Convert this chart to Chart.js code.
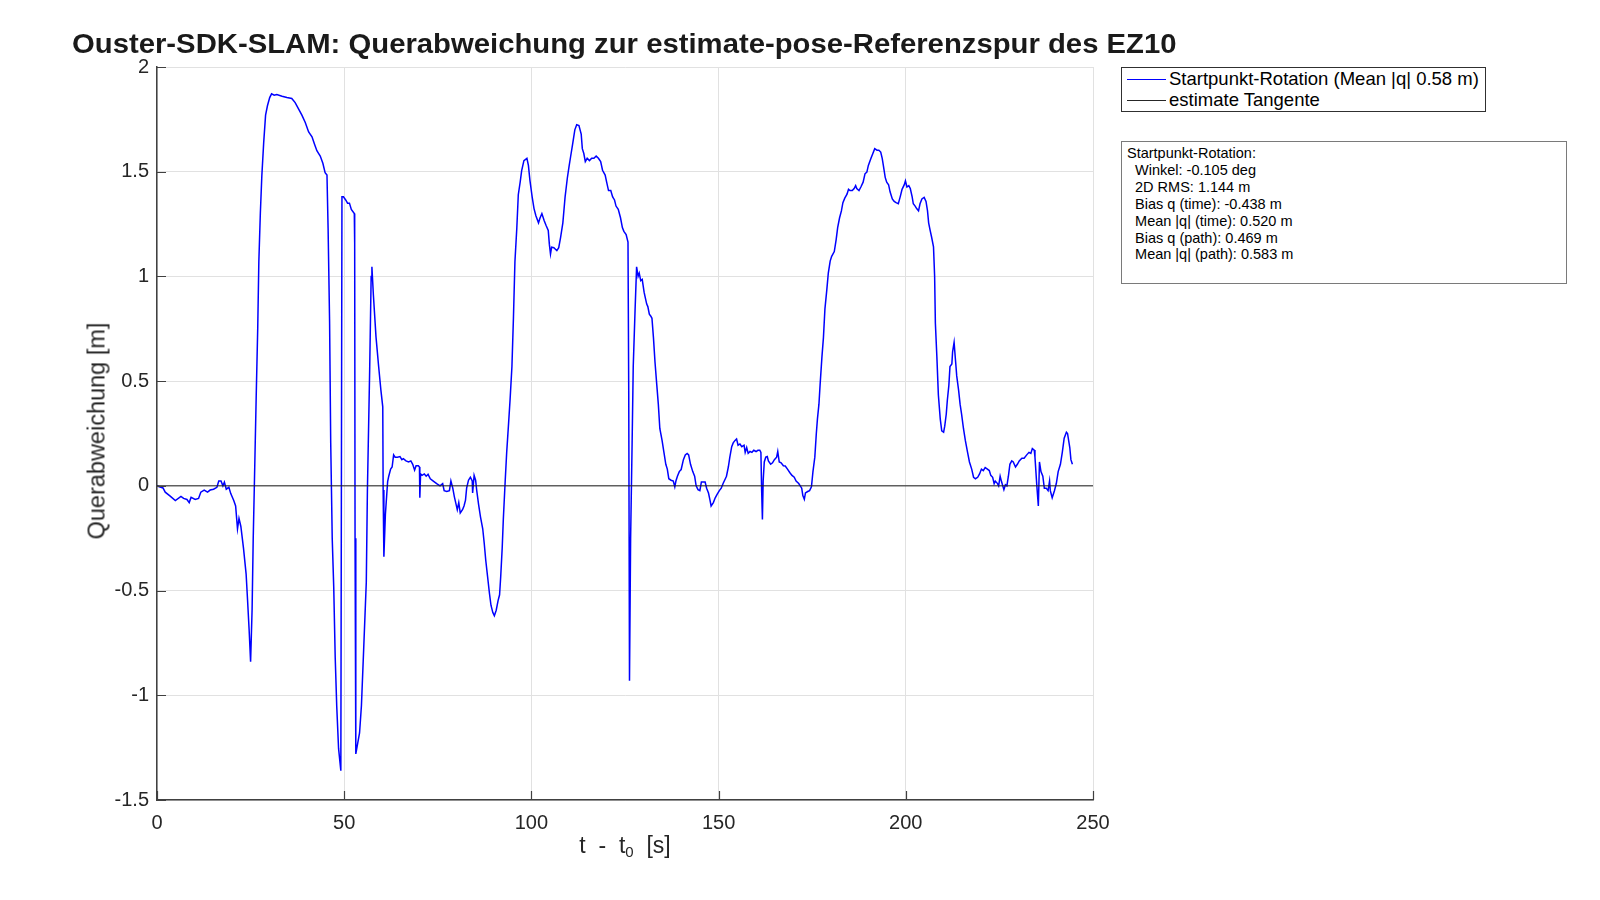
<!DOCTYPE html>
<html>
<head>
<meta charset="utf-8">
<script src="https://cdn.jsdelivr.net/npm/chart.js@4/dist/chart.umd.min.js"></script>
<style>
  html, body { margin: 0; padding: 0; background: #fff; }
  body { width: 1600px; height: 900px; position: relative; overflow: hidden;
         font-family: "Liberation Sans", Arial, Helvetica, sans-serif; color: #262626; }
  #chart { position: absolute; left: 0; top: 0; }
  #title { position: absolute; left: 72px; top: 28px; font-size: 27.5px; font-weight: bold;
           color: #1a1a1a; white-space: nowrap; transform-origin: left top; }
  #ylabel { position: absolute; left: 97px; top: 431px; font-size: 23.5px; white-space: nowrap;
            transform: translate(-50%, -50%) rotate(-90deg); }
  #xlabel { position: absolute; left: 625px; top: 846px; font-size: 23px; white-space: pre;
            transform: translate(-50%, -50%); }
  #xlabel sub { font-size: 15px; vertical-align: -4px; }
  .legend { position: absolute; left: 1121px; top: 67px; width: 363px; height: 43px;
            border: 1.5px solid #303030; background: #fff; }
  .legend .row { position: absolute; left: 0; height: 22px; font-size: 18.5px; line-height: 22px;
                 white-space: nowrap; color: #000; }
  .legend .swatch { position: absolute; left: 5px; top: 11px; width: 39px; height: 0; }
  .legend .txt { position: absolute; left: 47px; top: 0; }
  #stats { position: absolute; left: 1121px; top: 141px; width: 446px; height: 143px;
           border: 1px solid #7a7a7a; background: #fff; font-size: 14.5px; line-height: 16.9px;
           white-space: pre; padding: 3px 0 0 5px; box-sizing: border-box; color: #000; }
</style>
</head>
<body>
<canvas id="chart" width="1600" height="900"></canvas>
<div id="title">Ouster-SDK-SLAM: Querabweichung zur estimate-pose-Referenzspur des EZ10</div>
<div id="ylabel">Querabweichung [m]</div>
<div id="xlabel">t  -  t<sub>0</sub>  [s]</div>
<div class="legend">
  <div class="row" style="top: 0px;"><div class="swatch" style="border-top: 1.5px solid #0000ff;"></div><span class="txt">Startpunkt-Rotation (Mean |q| 0.58 m)</span></div>
  <div class="row" style="top: 21px;"><div class="swatch" style="border-top: 1px solid #262626;"></div><span class="txt">estimate Tangente</span></div>
</div>
<div id="stats">Startpunkt-Rotation:
  Winkel: -0.105 deg
  2D RMS: 1.144 m
  Bias q (time): -0.438 m
  Mean |q| (time): 0.520 m
  Bias q (path): 0.469 m
  Mean |q| (path): 0.583 m</div>
<script>
// time since start [s]
const timeS = [
  0, 1.6, 2.2, 3.6, 4.9, 6.4, 7.1, 8.0, 8.6, 9.1, 10.2, 11.1, 11.7, 12.6, 13.5, 14.2, 15.1, 16.0, 16.5, 17.1,
  17.6, 18.0, 18.5, 19.2, 19.7, 20.5, 21.0, 21.5, 21.9, 22.4, 23.1, 23.8, 24.2, 24.6, 25.0, 25.4, 25.7, 26.0, 26.5, 26.9,
  27.2, 27.6, 28.0, 28.5, 29.0, 29.5, 30.1, 30.6, 31.3, 32.0, 33.4, 34.7, 36.0, 36.9, 37.8, 38.7, 39.6, 40.5, 41.4, 42.1,
  42.7, 43.6, 44.3, 44.9, 45.4, 45.7, 46.1, 46.4, 46.8, 47.2, 47.6, 48.0, 48.5, 49.1, 49.4, 49.8, 50.4, 50.9, 51.4, 51.9,
  52.7, 52.8, 52.9, 53.1, 53.6, 54.1, 54.6, 55.2, 55.9, 56.2, 56.8, 57.2, 57.4, 57.8, 58.5, 59.2, 59.8, 60.3, 60.4, 60.6,
  61.0, 61.6, 61.9, 62.4, 62.8, 63.2, 63.6, 64.2, 64.9, 65.4, 65.8, 66.5, 67.2, 67.8, 68.3, 68.8, 69.2, 69.8, 70.1, 70.2,
  70.4, 70.8, 71.4, 71.9, 72.4, 73.0, 73.8, 74.7, 75.6, 76.3, 76.7, 77.4, 78.1, 78.5, 79.0, 79.4, 79.9, 80.2, 80.6, 81.0,
  81.6, 82.0, 82.4, 82.7, 83.2, 83.7, 84.2, 84.3, 84.7, 85.1, 85.4, 85.9, 86.4, 87.0, 87.4, 87.8, 88.3, 88.8, 89.2, 89.7,
  90.1, 90.6, 91.1, 91.5, 91.8, 92.2, 92.5, 93.0, 93.4, 93.9, 94.3, 94.8, 95.2, 95.6, 96.1, 96.5, 97.0, 97.4, 98.0, 98.8,
  99.2, 99.6, 100.2, 100.7, 101.2, 101.9, 102.3, 102.8, 103.4, 103.9, 104.5, 104.8, 105.1, 105.4, 106.0, 106.8, 107.3, 107.8, 108.4, 109.0,
  109.6, 110.1, 110.5, 111.0, 111.6, 112.1, 112.7, 113.3, 113.6, 114.0, 114.4, 114.9, 115.5, 116.1, 116.7, 117.3, 117.9, 118.5, 119.0, 119.7,
  120.1, 120.6, 121.2, 121.7, 122.2, 122.6, 123.2, 123.8, 124.3, 124.7, 125.3, 125.8, 126.0, 126.1, 126.2, 126.5, 126.9, 127.2, 127.7, 128.1,
  128.5, 128.8, 129.2, 129.6, 130.1, 130.4, 130.8, 131.1, 131.5, 131.9, 132.2, 132.6, 133.0, 133.5, 133.9, 134.3, 134.9, 135.4, 135.9, 136.3,
  136.7, 137.3, 137.9, 138.3, 138.6, 139.0, 139.5, 140.0, 140.6, 141.1, 141.6, 142.0, 142.5, 143.1, 143.6, 144.0, 144.5, 145.0, 145.4, 145.9,
  146.4, 146.8, 147.3, 147.7, 148.0, 148.6, 149.1, 149.6, 150.2, 150.7, 151.2, 151.8, 152.1, 152.6, 153.0, 153.5, 153.9, 154.4, 154.8, 155.2,
  155.7, 156.2, 156.8, 157.1, 157.5, 157.9, 158.4, 158.9, 159.4, 160.0, 160.5, 161.0, 161.3, 161.5, 161.7, 161.9, 162.2, 162.6, 163.0, 163.3,
  163.9, 164.4, 164.9, 165.5, 165.8, 166.2, 166.7, 167.3, 167.8, 168.4, 169.0, 169.6, 170.2, 170.7, 171.4, 171.8, 172.2, 172.5, 172.9, 173.2,
  173.8, 174.3, 174.8, 175.2, 175.7, 176.1, 176.4, 176.8, 177.1, 177.6, 178.0, 178.4, 178.9, 179.3, 179.8, 180.2, 180.9, 181.4, 181.8, 182.3,
  182.8, 183.2, 183.7, 184.3, 184.7, 185.1, 185.7, 186.2, 186.6, 186.9, 187.5, 188.0, 188.6, 189.1, 189.6, 190.0, 190.7, 191.2, 191.7, 192.3,
  192.8, 193.3, 193.7, 194.0, 194.5, 194.9, 195.4, 195.8, 196.4, 196.9, 197.4, 198.0, 198.5, 199.0, 199.6, 199.9, 200.3, 200.8, 201.2, 201.7,
  202.0, 202.5, 202.9, 203.4, 203.8, 204.3, 204.9, 205.4, 205.8, 206.1, 206.5, 206.9, 207.4, 207.7, 207.9, 208.3, 208.7, 209.2, 209.6, 210.1,
  210.4, 210.8, 211.1, 211.5, 211.8, 212.3, 212.5, 212.9, 213.3, 213.6, 214.1, 214.5, 214.9, 215.4, 215.9, 216.5, 217.0, 217.6, 218.1, 218.6,
  219.2, 219.7, 220.2, 220.7, 221.2, 221.8, 222.3, 222.7, 223.2, 223.6, 223.9, 224.5, 224.8, 225.2, 225.6, 225.9, 226.2, 226.6, 227.0, 227.4,
  227.8, 228.3, 228.7, 229.3, 229.8, 230.3, 231.0, 231.6, 232.3, 232.9, 233.4, 233.8, 234.3, 234.5, 235.0, 235.4, 235.7, 236.1, 236.6, 237.0,
  237.5, 238.0, 238.4, 238.6, 239.1, 239.7, 240.2, 240.7, 241.3, 241.8, 242.3, 242.9, 243.2, 243.8, 244.1, 244.5
];

// lateral deviation q [m]
const lateralM = [
  0, -0.01, -0.03, -0.05, -0.07, -0.05, -0.06, -0.065, -0.08, -0.055, -0.065, -0.06, -0.03, -0.02, -0.03, -0.02, -0.016, -0.007, 0.023, 0.023,
  0, 0.018, -0.016, -0.007, -0.037, -0.07, -0.096, -0.205, -0.155, -0.194, -0.297, -0.42, -0.55, -0.685, -0.84, -0.59, -0.25, 0, 0.43, 0.75,
  1.07, 1.30, 1.48, 1.64, 1.77, 1.815, 1.854, 1.872, 1.865, 1.868, 1.86, 1.854, 1.85, 1.83, 1.80, 1.77, 1.735, 1.69, 1.667, 1.63,
  1.60, 1.575, 1.54, 1.495, 1.484, 1.23, 0.78, 0.205, -0.25, -0.48, -0.82, -1.05, -1.255, -1.36, 1.38, 1.38, 1.365, 1.35, 1.35, 1.32,
  1.30, 1.16, -0.25, -1.28, -1.23, -1.18, -1.05, -0.78, -0.46, -0.02, 0.55, 1.0, 1.046, 0.91, 0.71, 0.57, 0.457, 0.377, -0.02, -0.338,
  -0.137, 0.02, 0.046, 0.08, 0.09, 0.148, 0.137, 0.137, 0.14, 0.125, 0.13, 0.119, 0.114, 0.119, 0.103, 0.075, 0.096, 0.096, 0.09, -0.057,
  0.057, 0.05, 0.057, 0.046, 0.055, 0.034, 0.023, 0.011, 0, 0.011, -0.023, -0.027, -0.023, 0.023, -0.011, -0.05, -0.09, -0.114, -0.08, -0.13,
  -0.114, -0.096, -0.068, -0.011, 0.027, 0.041, 0.023, -0.034, 0.05, 0.027, -0.023, -0.09, -0.148, -0.205, -0.274, -0.354, -0.434, -0.514, -0.57, -0.605,
  -0.62, -0.594, -0.548, -0.52, -0.434, -0.297, -0.16, 0.023, 0.16, 0.297, 0.41, 0.57, 0.8, 1.07, 1.23, 1.39, 1.45, 1.505, 1.553, 1.564,
  1.53, 1.46, 1.38, 1.324, 1.29, 1.256, 1.279, 1.30, 1.267, 1.244, 1.22, 1.153, 1.107, 1.14, 1.137, 1.123, 1.137, 1.187, 1.256, 1.38,
  1.47, 1.53, 1.575, 1.63, 1.70, 1.724, 1.72, 1.68, 1.61, 1.587, 1.548, 1.564, 1.553, 1.564, 1.564, 1.575, 1.564, 1.548, 1.507, 1.484,
  1.45, 1.41, 1.41, 1.38, 1.365, 1.336, 1.32, 1.28, 1.233, 1.215, 1.20, 1.164, 0.434, -0.25, -0.93, -0.25, 0.205, 0.57, 0.845, 1.046,
  1.0, 1.016, 0.98, 0.986, 0.925, 0.90, 0.868, 0.856, 0.82, 0.81, 0.80, 0.708, 0.594, 0.48, 0.39, 0.274, 0.217, 0.16, 0.103, 0.08,
  0.034, 0.027, 0.023, -0.005, 0.023, 0.046, 0.068, 0.078, 0.125, 0.148, 0.155, 0.148, 0.103, 0.068, 0.046, 0, -0.018, -0.023, 0.018, 0.018,
  0.018, -0.011, -0.034, -0.068, -0.096, -0.08, -0.057, -0.041, -0.023, -0.011, 0.011, 0.034, 0.046, 0.09, 0.137, 0.187, 0.205, 0.217, 0.224, 0.194,
  0.20, 0.187, 0.194, 0.16, 0.183, 0.155, 0.164, 0.16, 0.17, 0.164, 0.17, 0.17, 0.16, -0.023, -0.16, 0.023, 0.114, 0.137, 0.14, 0.119,
  0.103, 0.11, 0.125, 0.137, 0.164, 0.114, 0.11, 0.096, 0.095, 0.08, 0.064, 0.05, 0.041, 0.023, 0.011, 0, -0.011, -0.046, -0.064, -0.034,
  -0.027, -0.023, -0.005, 0.068, 0.137, 0.25, 0.32, 0.39, 0.48, 0.616, 0.708, 0.845, 0.936, 1.016, 1.073, 1.096, 1.119, 1.176, 1.233, 1.279,
  1.313, 1.352, 1.374, 1.393, 1.416, 1.41, 1.41, 1.42, 1.434, 1.42, 1.41, 1.427, 1.45, 1.49, 1.498, 1.53, 1.564, 1.587, 1.61, 1.603,
  1.603, 1.594, 1.564, 1.53, 1.473, 1.45, 1.438, 1.404, 1.37, 1.358, 1.352, 1.347, 1.38, 1.416, 1.438, 1.456, 1.427, 1.434, 1.42, 1.38,
  1.347, 1.336, 1.324, 1.313, 1.347, 1.37, 1.377, 1.358, 1.313, 1.256, 1.22, 1.187, 1.141, 1.0, 0.776, 0.616, 0.434, 0.32, 0.263, 0.256,
  0.285, 0.342, 0.41, 0.48, 0.57, 0.582, 0.64, 0.685, 0.594, 0.525, 0.457, 0.39, 0.342, 0.274, 0.217, 0.16, 0.114, 0.08, 0.041, 0.034,
  0.041, 0.057, 0.08, 0.073, 0.087, 0.08, 0.073, 0.05, 0.041, 0.011, 0.023, 0.011, 0, 0.046, 0.018, 0, -0.018, 0.005, 0, 0.046,
  0.103, 0.119, 0.114, 0.09, 0.103, 0.119, 0.132, 0.132, 0.148, 0.16, 0.155, 0.178, 0.171, 0.137, 0, -0.096, 0.114, 0.068, 0.046, -0.011,
  -0.011, -0.023, 0.023, -0.023, -0.057, -0.023, 0.011, 0.068, 0.103, 0.16, 0.228, 0.256, 0.25, 0.183, 0.125, 0.103
];

// reference tangent (zero line)
const tangentT = [0, 250];
const tangentQ = [0, 0];

const xTicks = { min: 0, max: 250, step: 50 };
const yTicks = { min: -1.5, max: 2, step: 0.5 };

const FONT = '"Liberation Sans", Arial, Helvetica, sans-serif';

// fit title width to the reference
const titleEl = document.getElementById('title');
titleEl.style.transform = `scaleX(${1105 / titleEl.scrollWidth})`;

// MATLAB-style inward ticks on bottom and left axes
const inwardTicks = {
  id: 'inwardTicks',
  afterDatasetsDraw(chart) {
    const { ctx, chartArea, scales } = chart;
    ctx.save();
    ctx.strokeStyle = '#404040';
    ctx.lineWidth = 1.2;
    ctx.beginPath();
    scales.x.ticks.forEach(t => {
      const px = Math.round(scales.x.getPixelForValue(t.value)) + 0.5;
      ctx.moveTo(px, chartArea.bottom);
      ctx.lineTo(px, chartArea.bottom - 9);
    });
    scales.y.ticks.forEach(t => {
      const py = Math.round(scales.y.getPixelForValue(t.value)) + 0.5;
      ctx.moveTo(chartArea.left, py);
      ctx.lineTo(chartArea.left + 9, py);
    });
    ctx.stroke();
    ctx.restore();
  }
};

const ctx = document.getElementById('chart').getContext('2d');
new Chart(ctx, {
  type: 'line',
  data: {
    datasets: [
      {
        label: 'Startpunkt-Rotation (Mean |q| 0.58 m)',
        data: timeS.map((t, i) => ({ x: t, y: lateralM[i] })),
        borderColor: '#0000ff',
        borderWidth: 1.5,
        pointRadius: 0,
        tension: 0,
        fill: false,
        order: 1
      },
      {
        label: 'estimate Tangente',
        data: tangentT.map((t, i) => ({ x: t, y: tangentQ[i] })),
        borderColor: '#1a1a1a',
        borderWidth: 1,
        pointRadius: 0,
        fill: false,
        order: 0
      }
    ]
  },
  options: {
    responsive: false,
    animation: false,
    events: [],
    layout: { padding: { left: 97, top: 67, right: 507, bottom: 60 } },
    scales: {
      x: {
        type: 'linear',
        min: xTicks.min,
        max: xTicks.max,
        afterFit: s => { s.height = 40; },
        ticks: {
          stepSize: xTicks.step,
          color: '#262626',
          font: { family: FONT, size: 20 },
          padding: 11,
          maxRotation: 0
        },
        grid: { color: '#e1e1e1', lineWidth: 1, drawTicks: false },
        border: { color: '#404040', width: 1.5 }
      },
      y: {
        type: 'linear',
        min: yTicks.min,
        max: yTicks.max,
        afterFit: s => { s.width = 60; },
        ticks: {
          stepSize: yTicks.step,
          color: '#262626',
          font: { family: FONT, size: 20 },
          padding: 8,
          callback: v => String(+v.toFixed(2))
        },
        grid: { color: '#e1e1e1', lineWidth: 1, drawTicks: false },
        border: { color: '#404040', width: 1.5 }
      }
    },
    plugins: {
      legend: { display: false },
      tooltip: { enabled: false }
    }
  },
  plugins: [inwardTicks]
});
</script>
</body>
</html>
